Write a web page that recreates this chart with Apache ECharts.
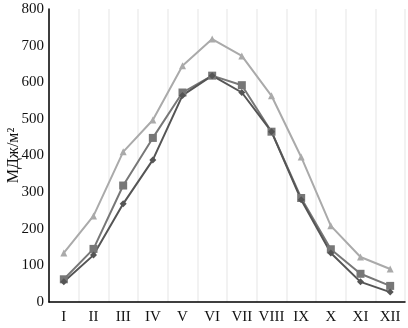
<!DOCTYPE html>
<html>
<head>
<meta charset="utf-8">
<script src="https://cdn.jsdelivr.net/npm/echarts@6/dist/echarts.min.js"></script>
<style>
  html, body { margin: 0; padding: 0; background: #fff; }
  #chart { width: 408px; height: 328px; }
</style>
</head>
<body>
<div id="chart"></div>
<script>
const months = ['I', 'II', 'III', 'IV', 'V', 'VI', 'VII', 'VIII', 'IX', 'X', 'XI', 'XII']
const upper = [134, 235, 410, 497, 645, 718, 672, 563, 396, 208, 123, 90]
const middle = [62, 145, 318, 448, 572, 618, 592, 465, 284, 144, 77, 44]
const lower = [55, 128, 268, 388, 564, 618, 572, 465, 279, 134, 55, 27]
const yTicks = [0, 100, 200, 300, 400, 500, 600, 700, 800]

const font = '"Liberation Serif", "DejaVu Serif", serif'
const chart = echarts.init(document.getElementById('chart'))

const line = (data, color, symbol, size) => ({
  type: 'line', data, symbol, symbolSize: size,
  itemStyle: { color }, lineStyle: { color, width: 2 }
})

chart.setOption({
  animation: false,
  grid: { left: 49, right: 3, top: 9, bottom: 26, outerBoundsMode: 'none', containLabel: false },
  xAxis: {
    type: 'category', data: months, boundaryGap: true,
    axisLine: { lineStyle: { color: '#000', width: 1.5 } },
    axisTick: { show: false },
    axisLabel: { color: '#111', fontFamily: font, fontSize: 15, margin: 8, interval: 0, hideOverlap: false },
    splitLine: { show: true, interval: 0, lineStyle: { color: '#f2f2f2', width: 2 } }
  },
  yAxis: {
    type: 'value', min: yTicks[0], max: yTicks[yTicks.length - 1], interval: 100,
    name: 'МДж/м²', nameLocation: 'middle', nameGap: 27, nameRotate: 90, nameMoveOverlap: false,
    nameTextStyle: { color: '#111', fontFamily: font, fontSize: 16 },
    axisLine: { show: true, lineStyle: { color: '#000', width: 1.5 } },
    axisTick: { show: false },
    axisLabel: { color: '#111', fontFamily: font, fontSize: 15, margin: 5 },
    splitLine: { show: false }
  },
  series: [
    line(upper, '#aaaaaa', 'triangle', 7),
    line(middle, '#777777', 'rect', 8),
    line(lower, '#555555', 'diamond', 7)
  ]
})
</script>
</body>
</html>
